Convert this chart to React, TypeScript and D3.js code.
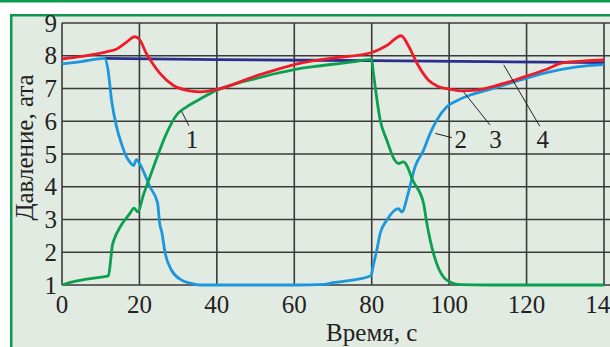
import React from 'react';
import * as d3 from 'd3';

// pressure curves, time in s, pressure in ata
const greenT = [0, 3, 6, 10, 12, 12.6, 13, 13.5, 15, 17.5, 18.6, 19.6, 21, 22.7, 24.4, 27, 29.6, 32.2, 35.1, 40, 45, 50, 55, 60, 65, 70, 75, 80, 80.4, 80.9, 82.2, 83.9, 84.8, 86, 86.9, 88.2, 90.8, 93.4, 94.1, 95.1, 96.8, 99.4, 103, 110, 120, 130, 140];
const greenP = [1, 1.1, 1.17, 1.24, 1.28, 1.8, 2.2, 2.4, 2.77, 3.18, 3.35, 3.23, 3.74, 4.3, 4.85, 5.63, 6.19, 6.44, 6.64, 6.95, 7.15, 7.3, 7.45, 7.58, 7.67, 7.74, 7.81, 7.89, 7.5, 7.05, 6.03, 5.42, 5.12, 4.8, 4.71, 4.76, 4.15, 3.49, 2.98, 2.37, 1.65, 1.15, 1.01, 1, 1, 1, 1];

const cyanT = [0, 5, 11, 11.9, 12.8, 14.1, 15.4, 16.5, 17.5, 18.5, 19.2, 20.3, 22.7, 24.7, 25.2, 25.8, 26.6, 28.3, 30.9, 33, 35.6, 40, 50, 60, 68, 70, 72, 75, 79.8, 80.4, 81.3, 82.2, 83.9, 86.9, 87.8, 89.3, 91.2, 93.4, 95.1, 96.8, 99.4, 102.4, 105.5, 111.4, 118.4, 124.3, 133, 140];
const cyanP = [7.75, 7.82, 7.92, 7.56, 6.64, 5.83, 5.3, 4.95, 4.76, 4.65, 4.83, 4.65, 4.0, 3.5, 2.9, 2.6, 2.0, 1.45, 1.15, 1.06, 1.0, 1, 1, 1, 1.02, 1.07, 1.1, 1.15, 1.28, 1.6, 2.06, 2.58, 2.98, 3.33, 3.23, 3.75, 4.61, 5.12, 5.63, 6.03, 6.44, 6.65, 6.8, 7.0, 7.26, 7.46, 7.66, 7.73];

const redT = [0, 5, 11.5, 14, 16.5, 18.8, 20, 21.8, 23.5, 25.3, 28.7, 33, 36, 40, 50, 61.4, 70, 80, 84, 87.6, 89.5, 91.7, 94.6, 97, 100, 103, 107, 112, 120, 125, 129.5, 135, 140];
const redP = [7.9, 7.98, 8.12, 8.2, 8.4, 8.58, 8.5, 8.07, 7.75, 7.46, 7.1, 6.93, 6.9, 6.97, 7.38, 7.77, 7.93, 8.1, 8.32, 8.61, 8.3, 7.77, 7.26, 7.07, 6.98, 6.93, 6.95, 7.08, 7.38, 7.58, 7.79, 7.84, 7.87];

const blueT = [11, 40, 80, 110, 140];
const blueP = [7.92, 7.88, 7.85, 7.82, 7.79];

const xTicks = [0, 20, 40, 60, 80, 100, 120, 140];
const yTicks = [1, 2, 3, 4, 5, 6, 7, 8, 9];

// curve labels: leader start, leader end, text position (data units)
const labels = ['1', '2', '3', '4'];
const leaderFrom = [[30.9, 6.3], [96.4, 5.63], [103.7, 6.9], [114.1, 7.72]];
const leaderTo = [[32.8, 5.86], [100.7, 5.5], [110.6, 5.88], [123.4, 5.85]];
const labelAt = [[33.6, 5.45], [103, 5.45], [112, 5.45], [124.2, 5.45]];

const W = 610;
const H = 347;
const margin = { left: 62, right: 6, top: 23, bottom: 62 };

const textStyle = { fontFamily: "Times New Roman, Liberation Serif, Tinos, DejaVu Serif, serif" };

export default function App() {
  const x = d3.scaleLinear().domain([0, 140]).range([margin.left, W - margin.right]);
  const y = d3.scaleLinear().domain([1, 9]).range([H - margin.bottom, margin.top]);

  const line = d3.line<[number, number]>()
    .x(d => x(d[0]))
    .y(d => y(d[1]))
    .curve(d3.curveMonotoneX);

  const zip = (t: number[], p: number[]) => t.map((v, i) => [v, p[i]] as [number, number]);

  const series = [
    { pts: zip(blueT, blueP), color: '#2b2e8f' },
    { pts: zip(cyanT, cyanP), color: '#1c96dc' },
    { pts: zip(greenT, greenP), color: '#0aa04e' },
    { pts: zip(redT, redP), color: '#ec1c2a' },
  ];

  const gridColor = '#3a3a3a';

  return (
    <svg width={W} height={H} style={{ position: 'absolute', left: 0, top: 0 }}>
      {/* frame */}
      <rect x={0} y={0} width={W} height={H} fill="#ffffff" />
      <rect x={0} y={0} width={W} height={2.5} fill="#0c9a50" />
      <rect x={10} y={14} width={W - 10} height={H - 14} fill="#e2ebe2" />
      <rect x={10} y={14} width={W - 10} height={2.5} fill="#0c9a50" />
      <rect x={10} y={14} width={2.5} height={H - 14} fill="#0c9a50" />

      {/* grid */}
      {yTicks.map(t => (
        <line key={'h' + t} x1={x(0)} x2={W} y1={y(t)} y2={y(t)} stroke={gridColor} strokeWidth={1.6} />
      ))}
      {xTicks.map(t => (
        <line key={'v' + t} x1={x(t)} x2={x(t)} y1={y(9)} y2={y(1)} stroke={gridColor} strokeWidth={1.6} />
      ))}

      {/* curves */}
      {series.map((s, i) => (
        <path key={i} d={line(s.pts) || ''} fill="none" stroke={s.color} strokeWidth={2.8} strokeLinejoin="round" />
      ))}

      {/* tick labels */}
      {xTicks.map(t => (
        <text key={'xt' + t} x={x(t)} y={y(1) + 28} textAnchor="middle" style={textStyle} fontSize={25} fill="#222">{t}</text>
      ))}
      {yTicks.map(t => (
        <text key={'yt' + t} x={x(0) - 5} y={y(t)} dy="0.34em" textAnchor="end" style={textStyle} fontSize={25} fill="#222">{t}</text>
      ))}

      {/* axis titles */}
      <text x={x(80)} y={H - 6} textAnchor="middle" style={textStyle} fontSize={25} fill="#222">Время, с</text>
      <text transform={`translate(33, ${y(5.2)}) rotate(-90)`} textAnchor="middle" style={textStyle} fontSize={25} fill="#222">Давление, ата</text>

      {/* curve labels */}
      {labels.map((l, i) => (
        <g key={'lab' + l}>
          <line x1={x(leaderFrom[i][0])} y1={y(leaderFrom[i][1])} x2={x(leaderTo[i][0])} y2={y(leaderTo[i][1])} stroke="#222" strokeWidth={1} />
          <text x={x(labelAt[i][0])} y={y(labelAt[i][1])} dy="0.35em" textAnchor="middle" style={textStyle} fontSize={25} fill="#222">{l}</text>
        </g>
      ))}
    </svg>
  );
}
